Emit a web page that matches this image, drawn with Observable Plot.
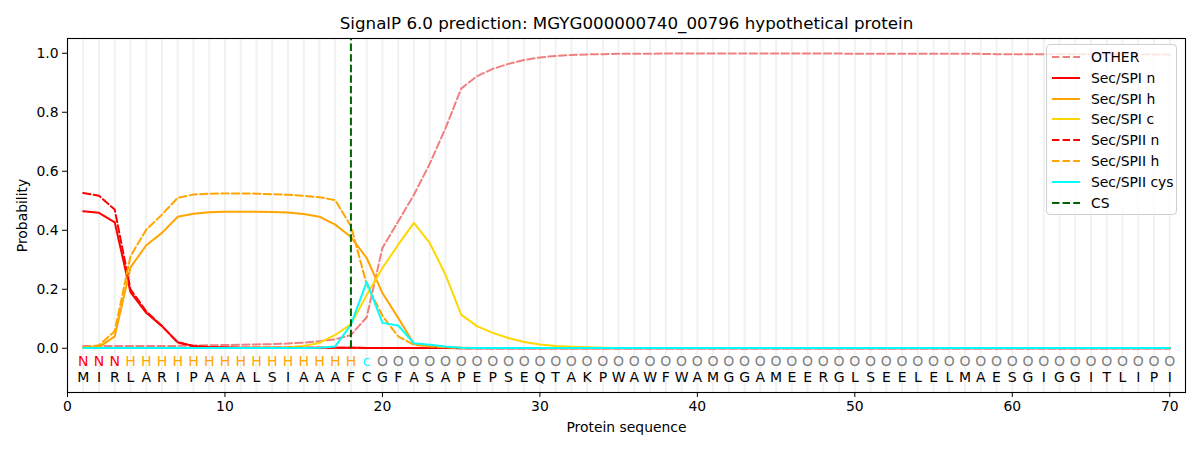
<!DOCTYPE html>
<html>
<head>
<meta charset="utf-8">
<script src="https://cdn.jsdelivr.net/npm/d3@7"></script>
<script src="https://cdn.jsdelivr.net/npm/@observablehq/plot@0.6"></script>
<style>
  body { margin: 0; background: #fff; font-family: "DejaVu Sans", sans-serif; }
  #wrap { position: relative; width: 1200px; height: 450px; }
  #legend { position: absolute; left: 1046px; top: 44px; width: 131px; height: 171px;
    border: 1px solid #d0d0d0; border-radius: 4px; background: rgba(255,255,255,0.8);
    box-sizing: border-box; font-size: 13.9px; color: #000; }
  .item { position: absolute; left: 4px; height: 20px; display: flex; align-items: center; }
  .item svg { width: 30px; height: 10px; margin-right: 10px; }
</style>
</head>
<body>
<div id="wrap"><div id="legend"></div></div>
<script>
const residues = "MIRLARIPAAALSIAAAFCGFASAPEPSEQTAKPWAWFWAMGGAMEERGLSEELELMAESGIGGITLIPI".split("");
const labels = ["N","N","N","H","H","H","H","H","H","H","H","H","H","H","H","H","H","H","c",
  ...Array(51).fill("O")];
const positions = d3.range(1, 71);

const other = [0.008,0.008,0.008,0.008,0.008,0.008,0.008,0.009,0.010,0.011,
  0.012,0.013,0.014,0.016,0.019,0.024,0.030,0.045,0.105,0.340,
  0.430,0.520,0.625,0.745,0.880,0.922,0.947,0.964,0.977,0.986,
  0.991,0.994,0.996,0.997,0.998,0.998,0.998,0.999,0.999,0.999,
  0.999,0.999,0.999,0.999,0.999,0.999,0.999,0.999,0.999,0.998,
  0.998,0.998,0.998,0.998,0.998,0.998,0.998,0.998,0.997,0.997,
  0.997,0.997,0.997,0.997,0.997,0.997,0.997,0.997,0.996,0.996];
const spiN = [0.464,0.459,0.427,0.190,0.120,0.075,0.020,0.008,0.004,0.003,
  0.002,0.002,0.002,0.002,0.002,0.002,0.002,0.002,0.001,0.001,
  0.001,0.001,0.001,0.001,0,0,0,0,0,0,
  0,0,0,0,0,0,0,0,0,0, 0,0,0,0,0,0,0,0,0,0,
  0,0,0,0,0,0,0,0,0,0, 0,0,0,0,0,0,0,0,0,0];
const spiH = [0.002,0.004,0.040,0.274,0.349,0.391,0.446,0.456,0.461,0.463,
  0.463,0.463,0.462,0.460,0.455,0.446,0.419,0.377,0.306,0.187,
  0.103,0.015,0.008,0.004,0.002,0.001,0.001,0.001,0.001,0.001,
  0.001,0.001,0.001,0.001,0.001,0.001,0.001,0.001,0.001,0.001,
  0.001,0.001,0.001,0.001,0.001,0.001,0.001,0.001,0.001,0.001,
  0.001,0.001,0.001,0.001,0.001,0.001,0.001,0.001,0.001,0.001,
  0.001,0.001,0.001,0.001,0.001,0.001,0.001,0.001,0.001,0.001];
const spiC = [0.001,0.001,0.001,0.001,0.001,0.001,0.001,0.001,0.001,0.001,
  0.001,0.002,0.002,0.003,0.008,0.018,0.045,0.081,0.180,0.272,
  0.351,0.425,0.357,0.250,0.114,0.075,0.052,0.035,0.021,0.013,
  0.008,0.005,0.003,0.002,0.001,0.001,0.001,0.001,0.001,0.001,
  0.001,0.001,0.001,0.001,0.001,0.001,0.001,0.001,0.001,0.001,
  0.001,0.001,0.001,0.001,0.001,0.001,0.001,0.001,0.001,0.001,
  0.001,0.001,0.001,0.001,0.001,0.001,0.001,0.001,0.001,0.001];
const spiiN = [0.526,0.517,0.470,0.200,0.125,0.075,0.020,0.007,0.003,0.002,
  0.002,0.002,0.002,0.002,0.002,0.002,0.002,0.002,0.001,0.001,
  0.001,0.001,0.001,0.001,0,0,0,0,0,0,
  0,0,0,0,0,0,0,0,0,0, 0,0,0,0,0,0,0,0,0,0,
  0,0,0,0,0,0,0,0,0,0, 0,0,0,0,0,0,0,0,0,0];
const spiiH = [0.003,0.010,0.058,0.312,0.402,0.453,0.510,0.521,0.524,0.525,
  0.525,0.524,0.522,0.520,0.517,0.512,0.502,0.414,0.217,0.110,
  0.040,0.012,0.006,0.003,0.001,0.001,0.001,0.001,0.001,0.001,
  0.001,0.001,0.001,0.001,0.001,0.001,0.001,0.001,0.001,0.001,
  0.001,0.001,0.001,0.001,0.001,0.001,0.001,0.001,0.001,0.001,
  0.001,0.001,0.001,0.001,0.001,0.001,0.001,0.001,0.001,0.001,
  0.001,0.001,0.001,0.001,0.001,0.001,0.001,0.001,0.001,0.001];
const spiiCys = [0.001,0.001,0.001,0.001,0.001,0.001,0.001,0.001,0.001,0.001,
  0.001,0.001,0.001,0.001,0.001,0.002,0.006,0.080,0.225,0.086,
  0.077,0.017,0.012,0.006,0.002,0.001,0.001,0.001,0.001,0.001,
  0.001,0.001,0.001,0.001,0.001,0.001,0.001,0.001,0.001,0.001,
  0.001,0.001,0.001,0.001,0.001,0.001,0.001,0.001,0.001,0.001,
  0.001,0.001,0.001,0.001,0.001,0.001,0.001,0.001,0.001,0.001,
  0.001,0.001,0.001,0.001,0.001,0.001,0.001,0.001,0.001,0.001];
const csPos = 18;

const seriesDefs = [
  {name: "OTHER", values: other, color: "#f08080", dash: "7.4,3.2"},
  {name: "Sec/SPI n", values: spiN, color: "#ff0000", dash: null},
  {name: "Sec/SPI h", values: spiH, color: "#ffa500", dash: null},
  {name: "Sec/SPI c", values: spiC, color: "#ffd700", dash: null},
  {name: "Sec/SPII n", values: spiiN, color: "#ff0000", dash: "7.4,3.2"},
  {name: "Sec/SPII h", values: spiiH, color: "#ffa500", dash: "7.4,3.2"},
  {name: "Sec/SPII cys", values: spiiCys, color: "#00ffff", dash: null}
];

const labelColor = {N: "#ff0000", H: "#ffa500", c: "#00ffff", O: "#808080"};
const letters = positions.map((p, i) => ({x: p, res: residues[i], lab: labels[i]}));

const lineMarks = seriesDefs.map(s =>
  Plot.line(positions.map((p, i) => ({x: p, y: s.values[i]})), {
    x: "x", y: "y", stroke: s.color, strokeWidth: 2,
    strokeDasharray: s.dash || undefined
  })
);

const chart = Plot.plot({
  width: 1200, height: 450,
  marginLeft: 67, marginRight: 15, marginTop: 38, marginBottom: 58,
  style: {fontFamily: "DejaVu Sans, sans-serif", fontSize: "13.9px", color: "#000", background: "#fff"},
  x: {domain: [0, 71]},
  y: {domain: [-0.15, 1.05]},
  marks: [
    Plot.ruleX(positions, {x: d => d, stroke: "#f1f1f1", strokeWidth: 2}),
    ...lineMarks,
    Plot.ruleX([csPos], {x: d => d, y1: 0, y2: 1.05, stroke: "#006400", strokeWidth: 2, strokeDasharray: "7.4,3.2"}),
    Plot.text(letters, {x: "x", y: -0.046, text: "lab", fill: d => labelColor[d.lab], fontSize: 14}),
    Plot.text(letters, {x: "x", y: -0.1, text: "res", fill: "#000", fontSize: 14}),
    Plot.frame({stroke: "#000", strokeWidth: 1.1}),
    Plot.axisX({ticks: d3.range(0, 71, 10), tickSize: 5, tickPadding: 4, tickFormat: d => d, label: null, fontSize: 13.9}),
    Plot.axisY({ticks: d3.range(0, 1.01, 0.2), tickSize: 5, tickPadding: 4, tickFormat: d3.format(".1f"), label: null, fontSize: 13.9}),
    Plot.text(["SignalP 6.0 prediction: MGYG000000740_00796 hypothetical protein"], {frameAnchor: "top", lineAnchor: "middle", dy: -15, fontSize: 16.7}),
    Plot.text(["Protein sequence"], {frameAnchor: "bottom", lineAnchor: "middle", dy: 35, fontSize: 13.9}),
    Plot.text(["Probability"], {frameAnchor: "left", textAnchor: "middle", lineAnchor: "middle", dx: -45, rotate: -90, fontSize: 13.9})
  ]
});
document.getElementById("wrap").prepend(chart);

const legendItems = [...seriesDefs.map(s => ({name: s.name, color: s.color, dash: s.dash})),
  {name: "CS", color: "#006400", dash: "7.4,3.2"}];
const leg = document.getElementById("legend");
legendItems.forEach((it, i) => {
  const div = document.createElement("div");
  div.className = "item";
  div.style.top = (2 + i * 20.8) + "px";
  div.innerHTML = `<svg viewBox="0 0 30 10"><line x1="1" y1="5" x2="29" y2="5" stroke="${it.color}" stroke-width="2" ${it.dash ? `stroke-dasharray="${it.dash}"` : ""}/></svg><span>${it.name}</span>`;
  leg.appendChild(div);
});
</script>
</body>
</html>
